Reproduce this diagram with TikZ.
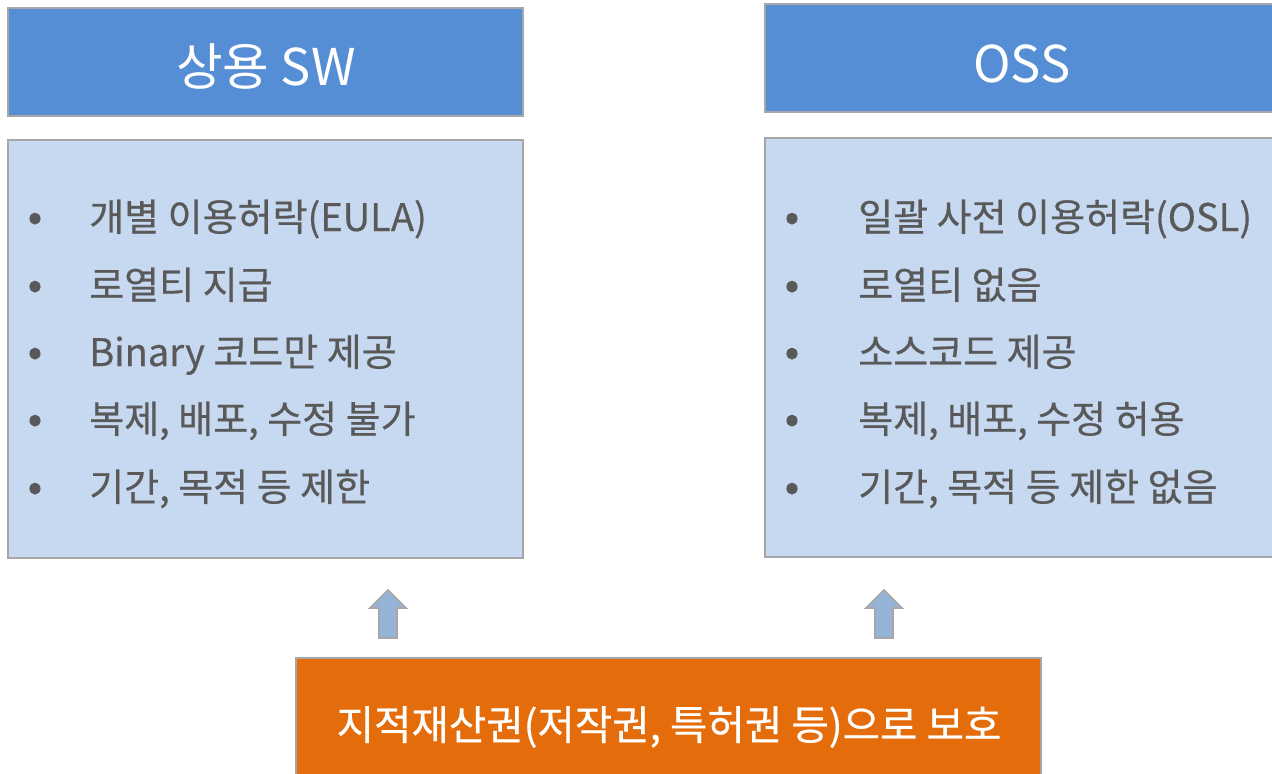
\documentclass[tikz,border=0pt]{standalone}
\usepackage{fontspec}
\setmainfont{Noto Sans CJK KR}[FakeBold=0.5]
\newfontfamily\plainfont{Noto Sans CJK KR}
\usetikzlibrary{calc}
\definecolor{titleblue}{HTML}{558ED5}
\definecolor{paleblue}{HTML}{C6D9F0}
\definecolor{edgegray}{HTML}{A6A6A6}
\definecolor{textgray}{HTML}{595959}
\definecolor{arrowblue}{HTML}{95B3D7}
\definecolor{orangebox}{HTML}{E46C0A}
\tikzset{
  px/.style={x=0.75pt,y=-0.75pt},
  titlebox/.style={draw=edgegray,line width=1.5pt,fill=titleblue},
  contentbox/.style={draw=edgegray,line width=1.5pt,fill=paleblue},
  titletext/.style={text=white,font=\plainfont\fontsize{38}{44}\selectfont,inner sep=0pt},
  itemtext/.style={text=textgray,font=\fontsize{28.5}{34}\selectfont,anchor=west,inner sep=0pt,text height=0.8em,text depth=0.2em},
  bullettext/.style={text=textgray,font=\fontsize{32}{34}\selectfont,anchor=center,inner sep=0pt},
  blockarrow/.style={draw=edgegray,line width=1.2pt,fill=arrowblue,line join=miter},
  orangestyle/.style={draw=edgegray,line width=1.5pt,fill=orangebox},
  orangetext/.style={text=white,font=\fontsize{30.5}{36}\selectfont,inner sep=0pt}
}
\begin{document}
\begin{tikzpicture}[px]
\useasboundingbox (0,0) rectangle (1272,774);
\clip (0,0) rectangle (1272,774);
% left column
\draw[titlebox] (8,8) rectangle (523,116);
\node[titletext] (ltitle) at (266,66) {상용 SW};
\draw[contentbox] (8,140) rectangle (523,558);
\foreach \y/\t [count=\i] in {220/개별 이용허락(EULA),288/로열티 지급,355/Binary 코드만 제공,422/{복제, 배포, 수정 불가},490/{기간, 목적 등 제한}}{
  \node[bullettext] (lb\i) at (35,\y+2) {•};
  \node[itemtext] (li\i) at (89,\y+7) {\t};
}
% right column
\draw[titlebox] (765,4) rectangle (1290,112);
\node[titletext] (rtitle) at (1022,64) {OSS};
\draw[contentbox] (765,138) rectangle (1290,557);
\foreach \y/\t [count=\i] in {220/일괄 사전 이용허락(OSL),288/로열티 없음,355/소스코드 제공,422/{복제, 배포, 수정 허용},490/{기간, 목적 등 제한 없음}}{
  \node[bullettext] (rb\i) at (792,\y+2) {•};
  \node[itemtext] (ri\i) at (858,\y+7) {\t};
}
% arrows
\foreach \cx/\nm in {388/la,884/ra}{
  \coordinate (\nm tip) at (\cx,590);
  \draw[blockarrow] (\nm tip) -- ($(\nm tip)+(18,18)$) -- ($(\nm tip)+(9,18)$) -- ($(\nm tip)+(9,48)$)
    -- ($(\nm tip)+(-9,48)$) -- ($(\nm tip)+(-9,18)$) -- ($(\nm tip)+(-18,18)$) -- cycle;
}
% bottom box
\draw[orangestyle] (296,658) rectangle (1041,800);
\node[orangetext] (prot) at (669,727) {지적재산권(저작권, 특허권 등)으로 보호};
\end{tikzpicture}
\end{document}
